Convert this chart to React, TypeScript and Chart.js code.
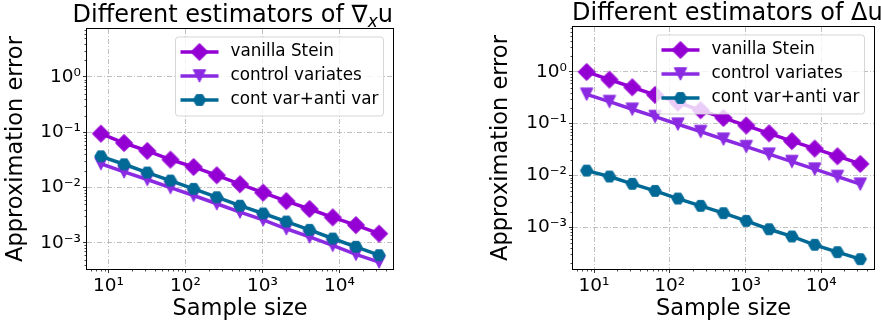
import React, { useEffect, useRef } from 'react';
import { Chart, registerables } from 'chart.js';

Chart.register(...registerables);

const FONT = '"DejaVu Sans", sans-serif';

// ---------------- data ----------------
const sampleSizes = [8, 16, 32, 64, 128, 256, 512, 1024, 2048, 4096, 8192, 16384, 32768];

const gradVanilla = [0.0946, 0.064, 0.046, 0.032, 0.0236, 0.0167, 0.0115, 0.0081, 0.0057, 0.0041, 0.0029, 0.0021, 0.00147];
const gradControl = [0.027, 0.0192, 0.014, 0.01, 0.0072, 0.0051, 0.0036, 0.0026, 0.0018, 0.00128, 0.0009, 0.00062, 0.00045];
const gradAnti = [0.0368, 0.0264, 0.0187, 0.0134, 0.0095, 0.0067, 0.0047, 0.0034, 0.00243, 0.00172, 0.0012, 0.00085, 0.0006];

const lapVanilla = [1.0, 0.71, 0.506, 0.36, 0.256, 0.182, 0.129, 0.092, 0.065, 0.046, 0.033, 0.0235, 0.0167];
const lapControl = [0.37, 0.267, 0.19, 0.137, 0.0975, 0.0704, 0.05, 0.036, 0.0257, 0.0185, 0.0132, 0.0095, 0.00676];
const lapAnti = [0.0124, 0.0095, 0.00686, 0.00502, 0.00357, 0.00258, 0.00186, 0.00132, 0.00091, 0.00066, 0.000455, 0.000328, 0.00024];

const seriesNames = ['vanilla Stein', 'control variates', 'cont var+anti var'];
const seriesColors = ['#9400d3', '#8a2be2', '#006996'];
const seriesMarkers = ['diamond', 'triangleDown', 'hexagon'];

const xLabel = 'Sample size';
const yLabel = 'Approximation error';

const xMajorValues = [10, 100, 1000, 10000];
const xTickLabels = ['10¹', '10²', '10³', '10⁴'];
const yMajorValues = [0.001, 0.01, 0.1, 1];
const yTickLabels = ['10⁻³', '10⁻²', '10⁻¹', '10⁰'];

const gradTitle = [{ text: 'Different estimators of ∇' }, { text: 'x', sub: true }, { text: 'u' }];
const lapTitle = [{ text: 'Different estimators of Δu' }];

// ---------------- helpers ----------------
function makeMarker(kind: string, color: string): HTMLCanvasElement {
  const c = document.createElement('canvas');
  const s = 22;
  c.width = s;
  c.height = s;
  const g = c.getContext('2d')!;
  g.fillStyle = color;
  g.strokeStyle = color;
  g.lineWidth = 1;
  const m = s / 2;
  g.beginPath();
  if (kind === 'diamond') {
    const r = 8.6;
    g.moveTo(m, m - r);
    g.lineTo(m + r, m);
    g.lineTo(m, m + r);
    g.lineTo(m - r, m);
  } else if (kind === 'triangleDown') {
    const r = 6.2;
    g.moveTo(m - r, m - r);
    g.lineTo(m + r, m - r);
    g.lineTo(m, m + r);
  } else {
    const r = 6.2;
    for (let k = 0; k < 6; k++) {
      const a = (k * Math.PI) / 3;
      const px = m + r * Math.cos(a);
      const py = m + r * Math.sin(a);
      if (k === 0) g.moveTo(px, py);
      else g.lineTo(px, py);
    }
  }
  g.closePath();
  g.fill();
  g.stroke();
  return c;
}

function logTicks(min: number, max: number) {
  const out: { value: number; major: boolean }[] = [];
  const e0 = Math.floor(Math.log10(min));
  const e1 = Math.ceil(Math.log10(max));
  for (let e = e0; e <= e1; e++) {
    for (let k = 1; k < 10; k++) {
      const v = k * Math.pow(10, e);
      if (v >= min && v <= max) out.push({ value: v, major: k === 1 });
    }
  }
  return out;
}

function labelFor(value: number, majors: number[], labels: string[]) {
  const i = majors.findIndex((m) => Math.abs(Math.log10(m) - Math.log10(value)) < 1e-6);
  return i >= 0 ? labels[i] : '';
}

type Part = { text: string; sub?: boolean };

interface PanelProps {
  left: number;
  width: number;
  title: Part[];
  titleX: number;
  series: number[][];
  yMin: number;
  yMax: number;
  padLeft: number;
  padRight: number;
  padTop: number;
  yWidth: number;
}

function Panel(props: PanelProps) {
  const ref = useRef<HTMLCanvasElement | null>(null);

  useEffect(() => {
    const canvas = ref.current;
    if (!canvas) return;
    const markers = seriesColors.map((c, i) => makeMarker(seriesMarkers[i], c));

    const datasets = props.series.map((vals, i) => ({
      label: seriesNames[i],
      data: sampleSizes.map((x, j) => ({ x, y: vals[j] })),
      borderColor: seriesColors[i],
      backgroundColor: seriesColors[i],
      borderWidth: 3.5,
      pointStyle: markers[i],
      pointRadius: 7,
      pointHoverRadius: 7,
      pointBorderWidth: 0,
      order: 3 - i,
      fill: false,
      tension: 0,
    }));

    const decor = {
      id: 'decor',
      afterDraw(chart: any) {
        const { ctx, chartArea: a, scales } = chart;
        ctx.save();
        // minor ticks
        ctx.strokeStyle = '#000';
        ctx.lineWidth = 0.7;
        ctx.beginPath();
        for (const t of scales.y.ticks) {
          if (t.major) continue;
          const y = Math.round(scales.y.getPixelForValue(t.value)) + 0.5;
          ctx.moveTo(a.left - 2.5, y);
          ctx.lineTo(a.left, y);
        }
        for (const t of scales.x.ticks) {
          if (t.major) continue;
          const x = Math.round(scales.x.getPixelForValue(t.value)) + 0.5;
          ctx.moveTo(x, a.bottom);
          ctx.lineTo(x, a.bottom + 2.5);
        }
        ctx.stroke();
        // frame
        ctx.lineWidth = 1;
        ctx.strokeStyle = '#000';
        ctx.strokeRect(Math.round(a.left) - 0.5, Math.round(a.top) - 0.5, Math.round(a.right - a.left) + 1, Math.round(a.bottom - a.top) + 1);

        // title
        ctx.fillStyle = '#000';
        ctx.textAlign = 'left';
        ctx.textBaseline = 'alphabetic';
        let tx = props.titleX;
        const ty = a.top - 6.75;
        for (const p of props.title) {
          if (p.sub) {
            ctx.font = `italic 17px ${FONT}`;
            ctx.fillText(p.text, tx, ty + 5);
          } else {
            ctx.font = `24px ${FONT}`;
            ctx.fillText(p.text, tx, ty);
          }
          tx += ctx.measureText(p.text).width;
        }

        // legend
        const W = 208;
        const H = 79;
        const lx = a.right - 9.5 - W;
        const ly = a.top + 8;
        ctx.save();
        ctx.globalAlpha = 0.8;
        ctx.fillStyle = '#ffffff';
        ctx.strokeStyle = '#cccccc';
        ctx.lineWidth = 1;
        ctx.beginPath();
        (ctx as any).roundRect(lx, ly, W, H, 3);
        ctx.fill();
        ctx.stroke();
        ctx.restore();
        ctx.font = `16.8px ${FONT}`;
        ctx.textBaseline = 'middle';
        seriesNames.forEach((name, i) => {
          const ry = ly + 15 + i * 24;
          ctx.strokeStyle = seriesColors[i];
          ctx.lineWidth = 3.5;
          ctx.beginPath();
          ctx.moveTo(lx + 5, ry);
          ctx.lineTo(lx + 43, ry);
          ctx.stroke();
          const mk = markers[i];
          ctx.drawImage(mk, lx + 24 - mk.width / 2, ry - mk.height / 2);
          ctx.fillStyle = '#000';
          ctx.fillText(name, lx + 55, ry);
        });
        ctx.restore();
      },
    };

    const gridColor = (c: any) => (c.tick && c.tick.major ? '#b0b0b0' : 'rgba(0,0,0,0)');
    const tickColor = (c: any) => (c.tick && c.tick.major ? '#000000' : 'rgba(0,0,0,0)');

    const xMin = 5.28;
    const xMax = 49700;

    const chart = new Chart(canvas, {
      type: 'line',
      data: { datasets: datasets as any },
      options: {
        animation: false,
        responsive: false,
        events: [],
        layout: { padding: { left: props.padLeft, right: props.padRight, top: props.padTop, bottom: 0 } },
        plugins: { legend: { display: false }, title: { display: false }, tooltip: { enabled: false } },
        scales: {
          x: {
            type: 'logarithmic',
            min: xMin,
            max: xMax,
            bounds: 'data',
            afterBuildTicks: (s: any) => {
              s.ticks = logTicks(xMin, xMax);
            },
            afterFit: (s: any) => {
              s.height = 52;
            },
            ticks: {
              autoSkip: false,
              maxRotation: 0,
              minRotation: 0,
              padding: 2,
              color: '#000',
              font: { family: FONT, size: 18.5 },
              callback: (v: any) => labelFor(Number(v), xMajorValues, xTickLabels),
            },
            grid: { color: gridColor, lineWidth: 0.8, tickColor, tickLength: 4, tickWidth: 0.8 },
            border: { display: false, dash: [5, 2, 1, 2] },
            title: {
              display: true,
              text: xLabel,
              color: '#000',
              font: { family: FONT, size: 22.5, lineHeight: 1 },
              padding: { top: 0, bottom: 1 },
            },
          },
          y: {
            type: 'logarithmic',
            min: props.yMin,
            max: props.yMax,
            bounds: 'data',
            afterBuildTicks: (s: any) => {
              s.ticks = logTicks(props.yMin, props.yMax);
            },
            afterFit: (s: any) => {
              s.width = props.yWidth;
            },
            ticks: {
              autoSkip: false,
              padding: 2,
              color: '#000',
              font: { family: FONT, size: 18.5 },
              callback: (v: any) => labelFor(Number(v), yMajorValues, yTickLabels),
            },
            grid: { color: gridColor, lineWidth: 0.8, tickColor, tickLength: 4, tickWidth: 0.8 },
            border: { display: false, dash: [5, 2, 1, 2] },
            title: {
              display: true,
              text: yLabel,
              color: '#000',
              font: { family: FONT, size: 22.5, lineHeight: 1 },
              padding: { top: 5, bottom: 0 },
            },
          },
        },
      } as any,
      plugins: [decor],
    });

    return () => chart.destroy();
  }, []);

  return (
    <canvas
      ref={ref}
      width={props.width}
      height={321}
      style={{ position: 'absolute', left: props.left, top: 0, width: props.width, height: 321 }}
    />
  );
}

export default function App() {
  return (
    <div style={{ position: 'absolute', left: 0, top: 0, width: 881, height: 321, background: '#fff' }}>
      <Panel
        left={0}
        width={440}
        title={gradTitle}
        titleX={72.5}
        series={[gradVanilla, gradControl, gradAnti]}
        yMin={3.37e-4}
        yMax={7.38}
        padLeft={0}
        padRight={47}
        padTop={29}
        yWidth={87}
      />
      <Panel
        left={440}
        width={441}
        title={lapTitle}
        titleX={132}
        series={[lapVanilla, lapControl, lapAnti]}
        yMin={1.55e-4}
        yMax={7.4}
        padLeft={45}
        padRight={3}
        padTop={27}
        yWidth={88}
      />
    </div>
  );
}
